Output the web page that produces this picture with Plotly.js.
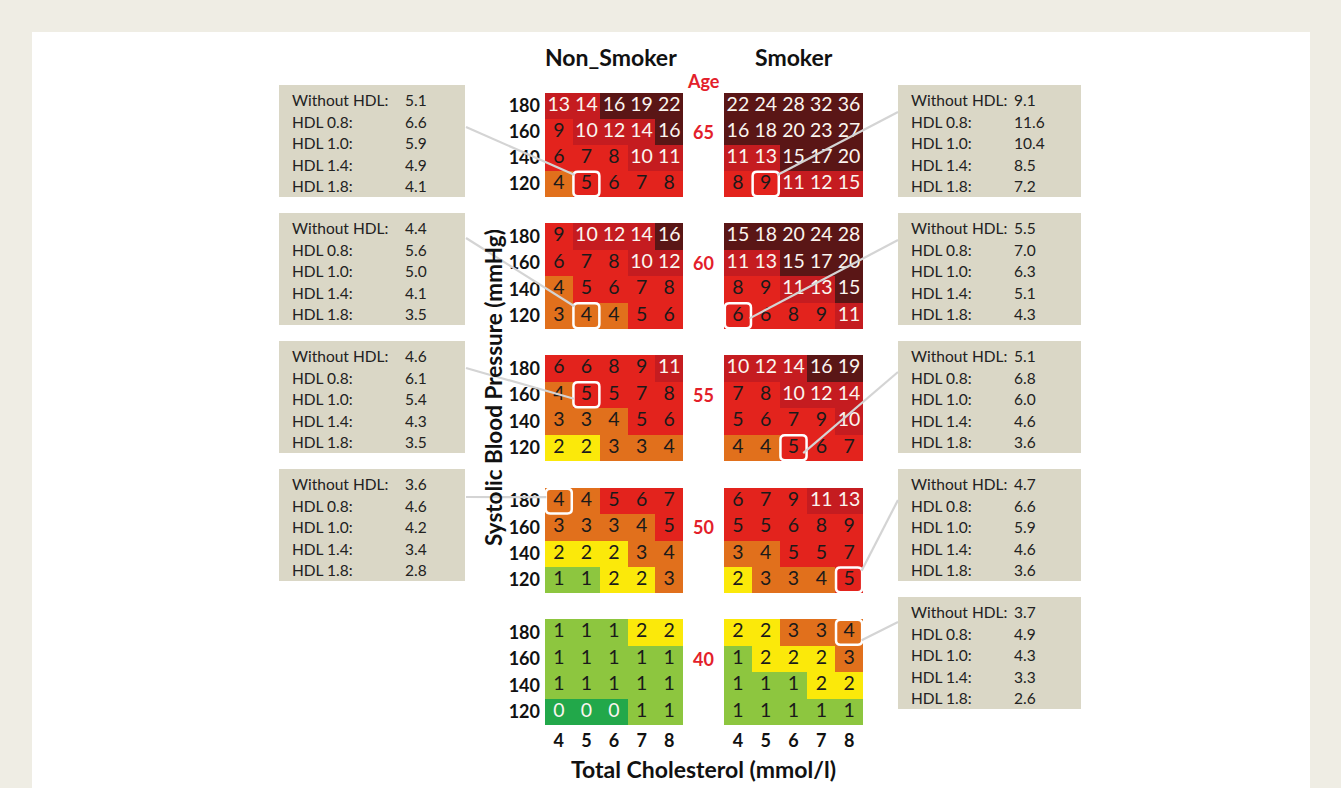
<!DOCTYPE html>
<html>
<head>
<meta charset="utf-8">
<script src="https://cdn.plot.ly/plotly-3.0.1.min.js"></script>
<style>html,body{margin:0;padding:0;background:#efede4;}#chart{width:1341px;height:788px;}</style>
</head>
<body>
<div id="chart"></div>
<script>
// ---------- DATA ----------
const cholesterol = [4, 5, 6, 7, 8];
const systolic = [120, 140, 160, 180];
const ages = [65, 60, 55, 50, 40];
const groups = ['Non_Smoker', 'Smoker'];

// risk grids, rows listed top (180) to bottom (120)
const ns65 = [[13,14,16,19,22],[9,10,12,14,16],[6,7,8,10,11],[4,5,6,7,8]];
const s65  = [[22,24,28,32,36],[16,18,20,23,27],[11,13,15,17,20],[8,9,11,12,15]];
const ns60 = [[9,10,12,14,16],[6,7,8,10,12],[4,5,6,7,8],[3,4,4,5,6]];
const s60  = [[15,18,20,24,28],[11,13,15,17,20],[8,9,11,13,15],[6,6,8,9,11]];
const ns55 = [[6,6,8,9,11],[4,5,5,7,8],[3,3,4,5,6],[2,2,3,3,4]];
const s55  = [[10,12,14,16,19],[7,8,10,12,14],[5,6,7,9,10],[4,4,5,6,7]];
const ns50 = [[4,4,5,6,7],[3,3,3,4,5],[2,2,2,3,4],[1,1,2,2,3]];
const s50  = [[6,7,9,11,13],[5,5,6,8,9],[3,4,5,5,7],[2,3,3,4,5]];
const ns40 = [[1,1,1,2,2],[1,1,1,1,1],[1,1,1,1,1],[0,0,0,1,1]];
const s40  = [[2,2,3,3,4],[1,2,2,2,3],[1,1,1,2,2],[1,1,1,1,1]];

// colour class read from the picture where it differs from the value band
// [group, age, cholesterol, systolic, class index]
const colourExceptions = [['Smoker', 65, 8, 120, 5]];

// HDL boxes
const hdlLabels = ['Without HDL:', 'HDL 0.8:', 'HDL 1.0:', 'HDL 1.4:', 'HDL 1.8:'];
const hdlNS65 = ['5.1','6.6','5.9','4.9','4.1'];
const hdlNS60 = ['4.4','5.6','5.0','4.1','3.5'];
const hdlNS55 = ['4.6','6.1','5.4','4.3','3.5'];
const hdlNS50 = ['3.6','4.6','4.2','3.4','2.8'];
const hdlS65 = ['9.1','11.6','10.4','8.5','7.2'];
const hdlS60 = ['5.5','7.0','6.3','5.1','4.3'];
const hdlS55 = ['5.1','6.8','6.0','4.6','3.6'];
const hdlS50 = ['4.7','6.6','5.9','4.6','3.6'];
const hdlS40 = ['3.7','4.9','4.3','3.3','2.6'];

// highlighted cells [cholesterol, systolic]
const hlNS65 = [5,120], hlS65 = [5,120], hlNS60 = [5,120], hlS60 = [4,120];
const hlNS55 = [5,160], hlS55 = [6,120], hlNS50 = [4,180], hlS50 = [8,120], hlS40 = [8,180];

// ---------- STYLE / LAYOUT ----------
const W = 1341, H = 788;
const FONT = 'Lato, "Open Sans", sans-serif';
const AGE_RED = '#e3202a';
const catColors = ['#22a84a','#8dc63f','#fbe90a','#e1701c','#e3231d','#c51c20','#5a1616'];
function riskCat(v){ return v<1?0: v<2?1: v<3?2: v<5?3: v<10?4: v<15?5:6; }
function textCol(v){ return (v>=10 || v<1) ? '#fbf5ef' : '#1a1a1a'; }

const colPx = {Non_Smoker:[545,683], Smoker:[724,863]};
const rowPx = {65:[93,197], 60:[223,329], 55:[355,461], 50:[488,593], 40:[619,725]};
const gridData = {Non_Smoker:{65:ns65,60:ns60,55:ns55,50:ns50,40:ns40}, Smoker:{65:s65,60:s60,55:s55,50:s50,40:s40}};
const hlData = {Non_Smoker:{65:hlNS65,60:hlNS60,55:hlNS55,50:hlNS50}, Smoker:{65:hlS65,60:hlS60,55:hlS55,50:hlS50,40:hlS40}};

const XR = [3.5, 8.5], YR = [110, 190];
const fx = p => p / W, fy = p => 1 - p / H;

const traces = [], shapes = [], annotations = [];
const layout = {
  width: W, height: H, margin:{l:0,r:0,t:0,b:0},
  paper_bgcolor:'#efede4', plot_bgcolor:'rgba(0,0,0,0)',
  showlegend:false, font:{family:FONT, color:'#1a1a1a'}
};

// white panel
shapes.push({type:'rect', xref:'paper', yref:'paper', x0:fx(32), x1:fx(1310), y0:0, y1:fy(32),
  fillcolor:'#ffffff', line:{width:0}, layer:'below'});

const axisOf = {};
let k = 0;
ages.forEach(age => {
  groups.forEach(g => {
    k++;
    const xa = 'x'+(k===1?'':k), ya = 'y'+(k===1?'':k);
    const xk = 'xaxis'+(k===1?'':k), yk = 'yaxis'+(k===1?'':k);
    axisOf[g+age] = {xa, ya, xd:[fx(colPx[g][0]), fx(colPx[g][1])], yd:[fy(rowPx[age][1]), fy(rowPx[age][0])]};
    const A = axisOf[g+age];
    layout[xk] = {domain:A.xd, range:XR, anchor:ya, showgrid:false, zeroline:false, showline:false,
      tickvals:cholesterol, ticks:'', showticklabels: age===40, ticklabelstandoff:3,
      tickfont:{family:FONT, size:18, color:'#111', weight:'bold'}, fixedrange:true};
    layout[yk] = {domain:A.yd, range:YR, anchor:xa, showgrid:false, zeroline:false, showline:false,
      tickvals:systolic, ticks:'', showticklabels: g==='Non_Smoker', ticklabelstandoff:4,
      tickfont:{family:FONT, size:18, color:'#111', weight:'bold'}, fixedrange:true};

    const rows = gridData[g][age].slice().reverse(); // now 120..180
    const z = rows.map((r,ri) => r.map((v,ci) => {
      const ex = colourExceptions.find(e => e[0]===g && e[1]===age && e[2]===cholesterol[ci] && e[3]===systolic[ri]);
      return ex ? ex[4] : riskCat(v);
    }));
    const n = catColors.length;
    const cs = [];
    catColors.forEach((c,i)=>{ cs.push([i/n, c]); cs.push([(i+1)/n, c]); });
    traces.push({type:'heatmap', x:cholesterol, y:systolic, z:z, zmin:-0.5, zmax:n-0.5,
      colorscale:cs, showscale:false, hoverinfo:'skip', xaxis:xa, yaxis:ya, xgap:0, ygap:0});

    const tx=[], ty=[], tt=[], tc=[];
    rows.forEach((r,ri)=> r.forEach((v,ci)=>{ tx.push(cholesterol[ci]); ty.push(systolic[ri]); tt.push(String(v)); tc.push(textCol(v)); }));
    traces.push({type:'scatter', mode:'text', x:tx, y:ty, text:tt, textposition:'middle center',
      textfont:{family:FONT, size:19.5, color:tc}, hoverinfo:'skip', xaxis:xa, yaxis:ya, cliponaxis:false});

    // highlight box
    const hl = hlData[g][age];
    if (hl) {
      const x0 = hl[0]-0.47, x1 = hl[0]+0.47, y0 = hl[1]-9.4, y1 = hl[1]+9.4;
      const rx = 0.16, ry = 3.2;
      const path = `M ${x0+rx} ${y0} L ${x1-rx} ${y0} Q ${x1} ${y0} ${x1} ${y0+ry} L ${x1} ${y1-ry} Q ${x1} ${y1} ${x1-rx} ${y1} L ${x0+rx} ${y1} Q ${x0} ${y1} ${x0} ${y1-ry} L ${x0} ${y0+ry} Q ${x0} ${y0} ${x0+rx} ${y0} Z`;
      shapes.push({type:'path', path:path, xref:xa, yref:ya, line:{color:'#ffffff', width:2.5}, fillcolor:'rgba(0,0,0,0)', layer:'above'});
    }
  });
});

function toPaper(key, xv, yv){
  const A = axisOf[key];
  return [A.xd[0] + (xv-XR[0])/(XR[1]-XR[0])*(A.xd[1]-A.xd[0]),
          A.yd[0] + (yv-YR[0])/(YR[1]-YR[0])*(A.yd[1]-A.yd[0])];
}

// info boxes
const leftBoxes = [[hdlNS65,85],[hdlNS60,213],[hdlNS55,341],[hdlNS50,469]];
const rightBoxes = [[hdlS65,85],[hdlS60,213],[hdlS55,341],[hdlS50,469],[hdlS40,597]];
function addBox(vals, top, xl, xr, labX, valX){
  shapes.push({type:'rect', xref:'paper', yref:'paper', x0:fx(xl), x1:fx(xr), y0:fy(top+112), y1:fy(top),
    fillcolor:'#dad7c6', line:{width:0}, layer:'below'});
  hdlLabels.forEach((lab,i)=>{
    const yc = top + 15 + i*21.6;
    annotations.push({xref:'paper', yref:'paper', x:fx(labX), y:fy(yc), xanchor:'left', yanchor:'middle',
      text:lab, showarrow:false, font:{family:FONT, size:15.5, color:'#222'}});
    annotations.push({xref:'paper', yref:'paper', x:fx(valX), y:fy(yc), xanchor:'left', yanchor:'middle',
      text:vals[i], showarrow:false, font:{family:FONT, size:15.5, color:'#222'}});
  });
}
leftBoxes.forEach(b => addBox(b[0], b[1], 279, 465, 290, 403));
rightBoxes.forEach(b => addBox(b[0], b[1], 898, 1081, 909, 1012));

// leader lines: [start px x, start px y, grid key, target x value, target y value]
const leaders = [
  [466,127,'Non_Smoker65',4.58,127], [466,238,'Non_Smoker60',4.58,127],
  [466,368,'Non_Smoker55',4.55,157], [466,497,'Non_Smoker50',3.55,183],
  [898,112,'Smoker65',5.42,127], [898,240,'Smoker60',4.42,118],
  [898,372,'Smoker55',6.35,116], [898,500,'Smoker50',8.45,127],
  [898,622,'Smoker40',8.45,174]
];
leaders.forEach(l=>{
  const t = toPaper(l[2], l[3], l[4]);
  shapes.push({type:'line', xref:'paper', yref:'paper', x0:fx(l[0]), y0:fy(l[1]), x1:t[0], y1:t[1],
    line:{color:'#d4d4d4', width:2.2}, layer:'above'});
});

// headers and labels
annotations.push({xref:'paper', yref:'paper', x:fx(611), y:fy(57), text:'<b>Non_Smoker</b>', showarrow:false,
  font:{family:FONT, size:23, color:'#111'}, xanchor:'center', yanchor:'middle'});
annotations.push({xref:'paper', yref:'paper', x:fx(794), y:fy(57), text:'<b>Smoker</b>', showarrow:false,
  font:{family:FONT, size:23, color:'#111'}, xanchor:'center', yanchor:'middle'});
annotations.push({xref:'paper', yref:'paper', x:fx(703), y:fy(81), text:'<b>Age</b>', showarrow:false,
  font:{family:FONT, size:18, color:AGE_RED}, xanchor:'center', yanchor:'middle'});
ages.forEach(age=>{
  const t = toPaper('Non_Smoker'+age, 4, 160);
  annotations.push({xref:'paper', yref:'paper', x:fx(703), y:t[1], text:'<b>'+age+'</b>', showarrow:false,
    font:{family:FONT, size:18, color:AGE_RED}, xanchor:'center', yanchor:'middle'});
});
annotations.push({xref:'paper', yref:'paper', x:fx(703), y:fy(769), text:'<b>Total Cholesterol (mmol/l)</b>', showarrow:false,
  font:{family:FONT, size:23, color:'#111'}, xanchor:'center', yanchor:'middle'});
annotations.push({xref:'paper', yref:'paper', x:fx(493), y:fy(388), text:'<b>Systolic Blood Pressure (mmHg)</b>', showarrow:false,
  textangle:-90, font:{family:FONT, size:22.5, color:'#111'}, xanchor:'center', yanchor:'middle'});

layout.shapes = shapes;
layout.annotations = annotations;
Plotly.newPlot('chart', traces, layout, {displayModeBar:false, staticPlot:true});
</script>
</body>
</html>
